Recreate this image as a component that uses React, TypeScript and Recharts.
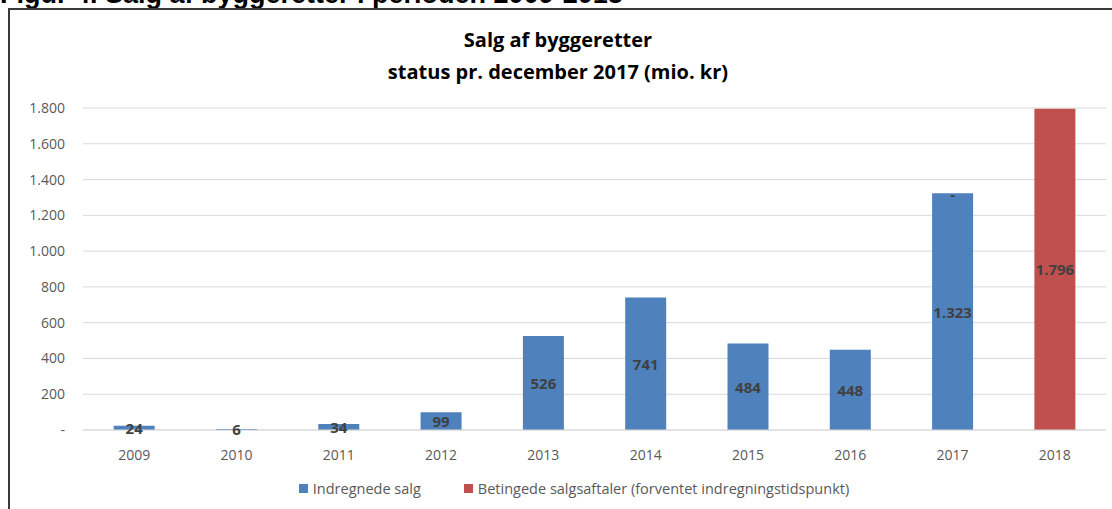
import React from 'react';
import { BarChart, Bar, XAxis, YAxis, CartesianGrid, Legend, LabelList } from 'recharts';

const years = ['2009', '2010', '2011', '2012', '2013', '2014', '2015', '2016', '2017', '2018'];
const indregnede: (number | null)[] = [24, 6, 34, 99, 526, 741, 484, 448, 1323, null];
const betingede: (number | null)[] = [null, null, null, null, null, null, null, null, 0, 1796];
const yTicks = [0, 200, 400, 600, 800, 1000, 1200, 1400, 1600, 1800];

const seriesNames = {
  blue: 'Indregnede salg',
  red: 'Betingede salgsaftaler (forventet indregningstidspunkt)',
};
const BLUE = '#4F81BD';
const RED = '#C0504D';
const FONT = '"Open Sans", sans-serif';

const data = years.map((y, i) => ({ year: y, blue: indregnede[i], red: betingede[i] }));

const fmt = (v: number) => (v === 0 ? '-' : v.toLocaleString('da-DK'));

const labelText = (x: number, y: number, s: string, key?: string) => (
  <text
    key={key}
    x={x}
    y={y}
    textAnchor="middle"
    dominantBaseline="central"
    fontFamily={FONT}
    fontSize={15}
    fontWeight="bold"
    fill="#404040"
  >
    {s}
  </text>
);

const renderBlueLabel = (props: any) => {
  const { x, y, width, height, value, index } = props;
  if (value === null || value === undefined) return null;
  const cx = Number(x) + Number(width) / 2;
  const out = [labelText(cx, Number(y) + Number(height) / 2, fmt(Number(value)), 'v')];
  // zero-value stacked segment of the second series sits on top of this bar
  if (betingede[index] === 0) out.push(labelText(cx, Number(y) + 1, fmt(0), 'z'));
  return <g>{out}</g>;
};

const renderRedLabel = (props: any) => {
  const { x, y, width, height, value } = props;
  if (value === null || value === undefined || Number(value) === 0) return null;
  return labelText(Number(x) + Number(width) / 2, Number(y) + Number(height) / 2, fmt(Number(value)));
};

const LegendContent = () => (
  <div style={{ display: 'flex', justifyContent: 'center', fontFamily: FONT, fontSize: 14.5, color: '#595959', paddingLeft: 34 }}>
    <div style={{ display: 'flex', alignItems: 'center', marginRight: 43 }}>
      <span style={{ width: 9, height: 9, background: BLUE, display: 'inline-block', marginRight: 5 }} />
      {seriesNames.blue}
    </div>
    <div style={{ display: 'flex', alignItems: 'center' }}>
      <span style={{ width: 9, height: 9, background: RED, display: 'inline-block', marginRight: 5 }} />
      {seriesNames.red}
    </div>
  </div>
);

export default function App() {
  return (
    <div style={{ position: 'absolute', left: 0, top: 0, width: 1112, height: 509, overflow: 'hidden', background: '#fff' }}>
      <svg style={{ position: 'absolute', left: 0, top: 0 }} width={1112} height={20}>
        <text x={0} y={3} fontFamily='"Liberation Sans", Arial, sans-serif' fontWeight="bold" fontSize={27} fill="#000">
          Figur 4. Salg af byggeretter i perioden 2009-2018
        </text>
      </svg>
      <div style={{ position: 'absolute', left: 8, top: 8, width: 1200, height: 600, borderLeft: '2px solid #3a3a3a', borderTop: '2px solid #3a3a3a' }} />
      <div style={{ position: 'absolute', left: 0, top: 24, width: 1116, textAlign: 'center', fontFamily: FONT, fontWeight: 'bold', fontSize: 20, lineHeight: '32px', color: '#000' }}>
        <div>Salg af byggeretter</div>
        <div>status pr. december 2017 (mio. kr)</div>
      </div>
      <div style={{ position: 'absolute', left: 0, top: 0 }}>
        <BarChart width={1112} height={509} data={data} margin={{ top: 108, right: 6, bottom: 10, left: 8 }} barCategoryGap="30%">
          <CartesianGrid vertical={false} stroke="#D9D9D9" strokeWidth={1} />
          <XAxis
            dataKey="year"
            height={49}
            tickLine={false}
            axisLine={{ stroke: '#D9D9D9' }}
            tickMargin={14}
            tick={{ fontFamily: FONT, fontSize: 14, fill: '#595959' }}
          />
          <YAxis
            width={75}
            domain={[0, 1800]}
            ticks={yTicks}
            axisLine={false}
            tickLine={false}
            tickMargin={12}
            tickFormatter={fmt}
            tick={{ fontFamily: FONT, fontSize: 14, fill: '#595959' }}
          />
          <Legend verticalAlign="bottom" height={20} content={LegendContent} />
          <Bar dataKey="blue" name={seriesNames.blue} stackId="a" fill={BLUE} isAnimationActive={false}>
            <LabelList dataKey="blue" content={renderBlueLabel} />
          </Bar>
          <Bar dataKey="red" name={seriesNames.red} stackId="a" fill={RED} isAnimationActive={false}>
            <LabelList dataKey="red" content={renderRedLabel} />
          </Bar>
        </BarChart>
      </div>
    </div>
  );
}
